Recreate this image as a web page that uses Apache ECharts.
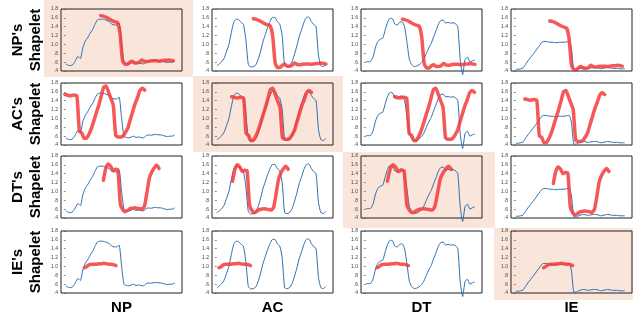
<!DOCTYPE html>
<html>
<head>
    <meta charset="utf-8">
    <script type="text/javascript" src="https://cdn.jsdelivr.net/npm/echarts@6.0.0/dist/echarts.min.js"></script>
    <title>Shapelet matches</title>
    <style>
        body { margin: 0; background: #fff; }
    </style>
</head>
<body>
    <div id="container" style="width:633px;height:323px;"></div>
    <script type="text/javascript">
    // time series (one per column), sampled by index
    var blueNP = [0.56, 0.53, 0.52, 0.55, 0.64, 0.73, 0.68, 0.92, 1.07, 1.15, 1.25, 1.33, 1.45, 1.55, 1.57, 1.57,
        1.56, 1.54, 1.51, 1.46, 1.44, 1.44, 1.48, 1.02, 0.60, 0.57, 0.56, 0.58, 0.60, 0.57, 0.58, 0.57,
        0.56, 0.60, 0.63, 0.62, 0.63, 0.64, 0.63, 0.63, 0.62, 0.60, 0.59, 0.60, 0.60, 0.63];
    var blueAC = [0.52, 0.56, 0.61, 0.69, 0.84, 1.00, 1.27, 1.50, 1.57, 1.56, 1.50, 1.45, 1.10, 0.55, 0.49, 0.50,
        0.53, 0.65, 0.83, 1.05, 1.22, 1.38, 1.52, 1.61, 1.61, 1.51, 1.46, 1.20, 0.52, 0.50, 0.52, 0.60,
        0.76, 0.95, 1.17, 1.33, 1.50, 1.61, 1.62, 1.52, 1.45, 1.40, 0.75, 0.52, 0.50, 0.55];
    var blueDT = [0.61, 0.61, 0.62, 0.72, 0.94, 1.07, 1.12, 1.14, 1.33, 1.50, 1.59, 1.58, 1.46, 1.44, 1.50, 1.51,
        1.40, 1.05, 0.66, 0.54, 0.50, 0.51, 0.54, 0.59, 0.67, 0.80, 0.92, 1.02, 1.17, 1.31, 1.46, 1.54,
        1.55, 1.48, 1.50, 1.48, 1.49, 1.47, 1.40, 0.65, 0.32, 0.66, 0.71, 0.60, 0.63, 0.65];
    var blueIE = [0.44, 0.44, 0.45, 0.47, 0.55, 0.63, 0.70, 0.77, 0.84, 0.92, 0.99, 1.06, 1.07, 1.06, 1.05, 1.05,
        1.04, 1.04, 1.05, 1.05, 1.05, 1.06, 1.07, 0.90, 0.42, 0.42, 0.45, 0.47, 0.48, 0.47, 0.46, 0.47,
        0.48, 0.48, 0.47, 0.45, 0.46, 0.47, 0.48, 0.47, 0.46, 0.46, 0.46, 0.45, 0.45, 0.45];

    // shapelets (one per row)
    var shapeNP = [1.65, 1.64, 1.62, 1.59, 1.56, 1.53, 1.51, 1.49, 1.25, 0.65, 0.55, 0.55, 0.60, 0.62, 0.58, 0.58,
        0.60, 0.65, 0.62, 0.61, 0.62, 0.63, 0.63, 0.63, 0.62, 0.63, 0.64, 0.64, 0.65, 0.64, 0.63];
    var shapeAC = [1.49, 1.48, 1.46, 1.47, 1.48, 1.45, 0.66, 0.62, 0.50, 0.51, 0.60, 0.73, 0.90, 1.08, 1.25, 1.45,
        1.65, 1.68, 1.55, 1.40, 1.25, 0.57, 0.53, 0.53, 0.55, 0.63, 0.73, 0.92, 1.10, 1.28, 1.42, 1.58,
        1.63, 1.59];
    var shapeDT = [1.23, 1.50, 1.60, 1.55, 1.45, 1.48, 1.46, 0.70, 0.57, 0.52, 0.55, 0.59, 0.60, 0.61, 0.60, 0.59,
        0.58, 0.65, 0.95, 1.28, 1.42, 1.51, 1.57, 1.50];
    var shapeIE = [0.97, 1.00, 1.04, 1.05, 1.05, 1.05, 1.06, 1.06, 1.07, 1.06, 1.05, 1.05, 1.04, 1.02];

    // best match per column: [start index, stretch, vertical shift]
    var matchNP = [[14.4, 1, 0], [15.1, 1, -0.07], [15.1, 1, -0.08], [14.0, 1, -0.12]];
    var matchAC = [[-0.4, 1, 0.05], [6.1, 1, 0], [11.9, 1, 0], [3.7, 1, -0.05]];
    var matchDT = [[15.5, 1, 0.02], [6.5, 1, 0], [8.9, 1.15, 0], [15.5, 1, -0.05]];
    var matchIE = [[7.7, 1, 0], [0.9, 1, 0], [4.6, 1, 0], [11.5, 0.92, 0]];

    var colNames = ['NP', 'AC', 'DT', 'IE'];
    var rowNames = ["NP's", "AC's", "DT's", "IE's"];
    var tickLabels = ['.4', '.6', '.8', '1.0', '1.2', '1.4', '1.6', '1.8'];

    var blues = [blueNP, blueAC, blueDT, blueIE];
    var shapes = [shapeNP, shapeAC, shapeDT, shapeIE];
    var matches = [matchNP, matchAC, matchDT, matchIE];

    var myChart = echarts.init(document.getElementById('container'));

    var colLeft = [61, 212, 361, 511];
    var rowTop = [9, 83, 156, 231];
    var boxW = 121, boxH = 62;
    var peach = '#fae5da';
    var font = '"Liberation Sans", Arial, sans-serif';

    var grids = [], xAxes = [], yAxes = [], series = [];
    var k = 0;
    for (var r = 0; r < 4; r++) {
        for (var c = 0; c < 4; c++) {
            grids.push({
                left: colLeft[c], top: rowTop[r], width: boxW, height: boxH,
                show: true, backgroundColor: 'transparent',
                borderColor: '#222', borderWidth: 1
            });
            xAxes.push({
                gridIndex: k, type: 'value', min: -2, max: 48, show: false
            });
            yAxes.push({
                gridIndex: k, type: 'value', min: 0.4, max: 1.8, interval: 0.2,
                splitLine: { show: false },
                axisLine: { show: false },
                axisTick: { show: true, length: 2, lineStyle: { color: '#444', width: 0.6 } },
                axisLabel: {
                    fontSize: 5, color: '#444', margin: 3, fontFamily: font,
                    formatter: function (v) { return tickLabels[Math.round((v - 0.4) / 0.2)]; }
                }
            });
            // the series of this column
            var bd = blues[c].map(function (v, i) { return [i, v]; });
            series.push({
                type: 'line', xAxisIndex: k, yAxisIndex: k, data: bd,
                showSymbol: false, clip: false, smooth: 0.2,
                lineStyle: { color: '#2a6fb0', width: 1 }, z: 2
            });
            // the row's shapelet at its match position
            var m = matches[r][c];
            var rd = shapes[r].map(function (v, i) { return [m[0] + i * m[1], v + m[2]]; });
            series.push({
                type: 'line', xAxisIndex: k, yAxisIndex: k, data: rd,
                showSymbol: false, clip: false, smooth: 0.2,
                lineStyle: { color: '#f53a3a', width: 3.5, opacity: 0.85, cap: 'round', join: 'round' }, z: 3
            });
            k++;
        }
    }

    // highlight boxes on the diagonal
    var graphics = [
        { type: 'rect', shape: { x: 44, y: 0, width: 149, height: 77 }, style: { fill: peach }, z: -1 },
        { type: 'rect', shape: { x: 193, y: 76, width: 150, height: 76 }, style: { fill: peach }, z: -1 },
        { type: 'rect', shape: { x: 343, y: 152, width: 152, height: 76 }, style: { fill: peach }, z: -1 },
        { type: 'rect', shape: { x: 494, y: 228, width: 139, height: 72 }, style: { fill: peach }, z: -1 }
    ];
    for (var i = 0; i < 4; i++) {
        graphics.push({
            type: 'text', x: 27, y: rowTop[i] + boxH / 2, rotation: Math.PI / 2,
            style: {
                text: rowNames[i] + '\nShapelet', fill: '#000', align: 'center', verticalAlign: 'middle',
                font: 'bold 15px ' + font, lineHeight: 18
            }
        });
        graphics.push({
            type: 'text', x: colLeft[i] + boxW / 2, y: 308,
            style: {
                text: colNames[i], fill: '#000', align: 'center', verticalAlign: 'middle',
                font: 'bold 15px ' + font
            }
        });
    }

    var option = {
        animation: false,
        grid: grids,
        xAxis: xAxes,
        yAxis: yAxes,
        series: series,
        graphic: graphics
    };

    myChart.setOption(option);
    </script>
</body>
</html>
